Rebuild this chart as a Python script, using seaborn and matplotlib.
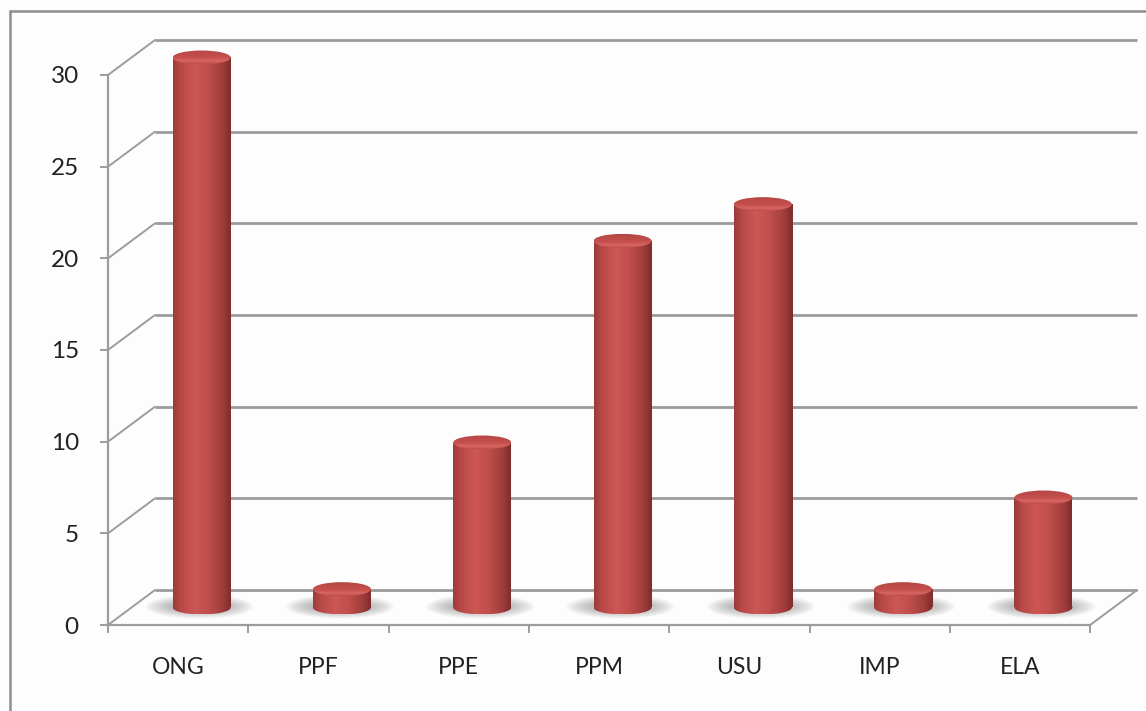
import numpy as np
import matplotlib
matplotlib.use("Agg")
import matplotlib.pyplot as plt
from matplotlib.patches import Ellipse, Rectangle
from matplotlib.colors import LinearSegmentedColormap
from matplotlib.lines import Line2D
import seaborn as sns

# ---- data ----
categories = ["ONG", "PPF", "PPE", "PPM", "USU", "IMP", "ELA"]
counts = [30, 1, 9, 20, 22, 1, 6]
y_ticks = [0, 5, 10, 15, 20, 25, 30]

sns.set_theme(style="white")
plt.rcParams["font.family"] = ["Lato", "DejaVu Sans"]

W, H = 1146, 711
fig = plt.figure(figsize=(W / 100, H / 100), dpi=100)
fig.patch.set_facecolor("#fdfdfd")

# axes: front plane of the 3-D box; left spine is the value axis, bottom spine the floor edge
px_per_cat = 140.3
px_per_unit = 550 / 30
left_px, bottom_px, top_px = 108, 625, 30
ax = fig.add_axes([left_px / W, (H - bottom_px) / H, (W - left_px) / W, (bottom_px - top_px) / H])
XLIM = (-0.5, -0.5 + (W - left_px) / px_per_cat)
YLIM = (0, (bottom_px - top_px) / px_per_unit)
ax.set_facecolor("none")

# depth of the box (back wall offset) in data units
depth_x = 47 / px_per_cat
depth_y = 35 / px_per_unit
mid_x, mid_y = depth_x / 2, depth_y / 2

grid_col = "#9c9c9c"
n = len(categories)
x_end = n - 0.5

# back wall gridlines and the diagonals that join them to the front axis
for v in y_ticks:
    ax.plot([-0.5 + depth_x, x_end + depth_x], [v + depth_y, v + depth_y],
            color=grid_col, lw=2.0, clip_on=False, zorder=1, solid_capstyle="butt")
    ax.plot([-0.5, -0.5 + depth_x], [v, v + depth_y],
            color=grid_col, lw=1.4, clip_on=False, zorder=1)
# right edge of the floor
ax.plot([x_end, x_end + depth_x], [0, depth_y], color=grid_col, lw=1.4, clip_on=False, zorder=1)

# cylinder bodies from seaborn bars, placed at mid-depth of the box
bar_w = 58 / px_per_cat
sns.barplot(x=categories, y=counts, ax=ax, width=bar_w, color="#C0504D",
            edgecolor="none", linewidth=0, zorder=3)

body_cmap = LinearSegmentedColormap.from_list(
    "cyl", [(0.0, "#9a3b39"), (0.12, "#b64846"), (0.38, "#cd5755"),
            (0.6, "#c14f4d"), (0.85, "#a03e3c"), (1.0, "#7f2c2b")])
top_cmap = LinearSegmentedColormap.from_list(
    "cyltop", [(0.0, "#b44644"), (0.55, "#c54f4d"), (0.8, "#d86764"), (1.0, "#c04c4a")])
grad_h = np.linspace(0, 1, 256).reshape(1, -1)
grad_v = np.linspace(0, 1, 64).reshape(-1, 1)

ell_h = 14 / px_per_unit
for patch in list(ax.patches):
    x0 = patch.get_x() + mid_x
    w = patch.get_width()
    h = patch.get_height()
    cx = x0 + w / 2
    patch.set_visible(False)

    # soft floor shadow around the base
    for k in range(12):
        s = 1 - k / 12
        sh = Ellipse((cx - 0.015, mid_y + 0.05), w + (50 / px_per_cat) * s, (8 + 16 * s) / px_per_unit,
                     facecolor="#707070", edgecolor="none", alpha=0.045, zorder=2, clip_on=False)
        ax.add_patch(sh)

    # body: rectangle plus the rounded front of the base
    rect = Rectangle((x0, mid_y), w, h, transform=ax.transData)
    im = ax.imshow(grad_h, cmap=body_cmap, aspect="auto", interpolation="bicubic",
                   extent=[x0, x0 + w, mid_y, mid_y + h], zorder=3)
    im.set_clip_path(rect)
    base = Ellipse((cx, mid_y), w, ell_h, transform=ax.transData)
    im2 = ax.imshow(grad_h, cmap=body_cmap, aspect="auto", interpolation="bicubic",
                    extent=[x0, x0 + w, mid_y - ell_h / 2, mid_y + ell_h / 2], zorder=3)
    im2.set_clip_path(base)

    # top cap
    cap = Ellipse((cx, mid_y + h), w, ell_h, transform=ax.transData)
    im3 = ax.imshow(grad_v, cmap=top_cmap, aspect="auto", interpolation="bicubic", origin="upper",
                    extent=[x0, x0 + w, mid_y + h - ell_h / 2, mid_y + h + ell_h / 2], zorder=4)
    im3.set_clip_path(cap)

ax.set_xlim(*XLIM)
ax.set_ylim(*YLIM)

# spines: front value axis and front floor edge
for side in ["top", "right"]:
    ax.spines[side].set_visible(False)
ax.spines["left"].set_bounds(0, 30)
ax.spines["bottom"].set_bounds(-0.5, x_end)
for side in ["left", "bottom"]:
    ax.spines[side].set_color(grid_col)
    ax.spines[side].set_linewidth(1.6)
    ax.spines[side].set_zorder(1)

ax.set_yticks(y_ticks)
ax.set_yticklabels([str(v) for v in y_ticks])
ax.tick_params(axis="y", length=6, width=1.4, color=grid_col, pad=15,
               labelsize=17.5, labelcolor="#222222", left=True, direction="out")

ax.set_xticks(np.arange(-0.5, n, 1.0))
ax.set_xticklabels([""] * (n + 1))
ax.set_xticks(np.arange(n), minor=True)
ax.set_xticklabels(categories, minor=True)
ax.tick_params(axis="x", which="major", length=6, width=1.4, color=grid_col,
               bottom=True, direction="out")
ax.tick_params(axis="x", which="minor", length=0, pad=23, labelsize=16.5, labelcolor="#222222")
ax.set_xlabel("")
ax.set_ylabel("")

# chart area border
fig.add_artist(Line2D([10 / W, 10 / W], [0, 1 - 11 / H], transform=fig.transFigure,
                      color="#8e8e8e", lw=1.8))
fig.add_artist(Line2D([10 / W, 1], [1 - 11 / H, 1 - 11 / H], transform=fig.transFigure,
                      color="#8e8e8e", lw=1.8))

fig.savefig("out.png", dpi=100, facecolor=fig.get_facecolor())
